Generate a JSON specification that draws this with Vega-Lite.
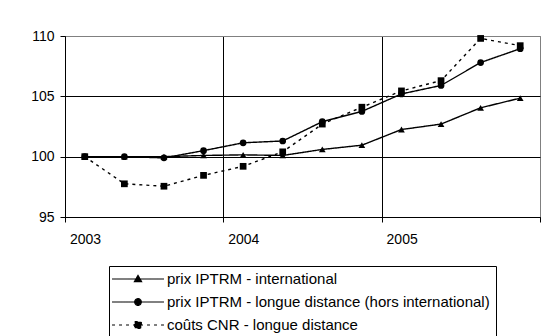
{
  "$schema": "https://vega.github.io/schema/vega-lite/v6.json",
  "width": 475,
  "height": 181,
  "autosize": {"type": "none"},
  "padding": {"left": 65, "top": 36, "right": 11, "bottom": 119},
  "background": "white",
  "config": {
    "font": "Liberation Sans",
    "view": {"stroke": "#808080", "strokeWidth": 1},
    "axis": {
      "domainColor": "black",
      "domainWidth": 1,
      "tickColor": "black",
      "tickWidth": 1,
      "tickSize": 5,
      "labelColor": "black",
      "labelFont": "Liberation Sans",
      "labelFontSize": 14,
      "gridWidth": 1,
      "title": null
    }
  },
  "data": {
    "values": [
      {"periode": 2003.125, "serie": "prix IPTRM - international", "valeur": 100},
      {"periode": 2003.375, "serie": "prix IPTRM - international", "valeur": 100},
      {"periode": 2003.625, "serie": "prix IPTRM - international", "valeur": 100},
      {"periode": 2003.875, "serie": "prix IPTRM - international", "valeur": 100.1},
      {"periode": 2004.125, "serie": "prix IPTRM - international", "valeur": 100.15},
      {"periode": 2004.375, "serie": "prix IPTRM - international", "valeur": 100.1},
      {"periode": 2004.625, "serie": "prix IPTRM - international", "valeur": 100.6},
      {"periode": 2004.875, "serie": "prix IPTRM - international", "valeur": 100.95},
      {"periode": 2005.125, "serie": "prix IPTRM - international", "valeur": 102.25},
      {"periode": 2005.375, "serie": "prix IPTRM - international", "valeur": 102.7},
      {"periode": 2005.625, "serie": "prix IPTRM - international", "valeur": 104.05},
      {"periode": 2005.875, "serie": "prix IPTRM - international", "valeur": 104.85},
      {"periode": 2003.125, "serie": "prix IPTRM - longue distance (hors international)", "valeur": 100},
      {"periode": 2003.375, "serie": "prix IPTRM - longue distance (hors international)", "valeur": 100},
      {"periode": 2003.625, "serie": "prix IPTRM - longue distance (hors international)", "valeur": 99.9},
      {"periode": 2003.875, "serie": "prix IPTRM - longue distance (hors international)", "valeur": 100.5},
      {"periode": 2004.125, "serie": "prix IPTRM - longue distance (hors international)", "valeur": 101.15},
      {"periode": 2004.375, "serie": "prix IPTRM - longue distance (hors international)", "valeur": 101.3},
      {"periode": 2004.625, "serie": "prix IPTRM - longue distance (hors international)", "valeur": 102.9},
      {"periode": 2004.875, "serie": "prix IPTRM - longue distance (hors international)", "valeur": 103.75},
      {"periode": 2005.125, "serie": "prix IPTRM - longue distance (hors international)", "valeur": 105.2},
      {"periode": 2005.375, "serie": "prix IPTRM - longue distance (hors international)", "valeur": 105.9},
      {"periode": 2005.625, "serie": "prix IPTRM - longue distance (hors international)", "valeur": 107.8},
      {"periode": 2005.875, "serie": "prix IPTRM - longue distance (hors international)", "valeur": 108.95},
      {"periode": 2003.125, "serie": "coûts CNR - longue distance", "valeur": 100},
      {"periode": 2003.375, "serie": "coûts CNR - longue distance", "valeur": 97.75},
      {"periode": 2003.625, "serie": "coûts CNR - longue distance", "valeur": 97.55},
      {"periode": 2003.875, "serie": "coûts CNR - longue distance", "valeur": 98.45},
      {"periode": 2004.125, "serie": "coûts CNR - longue distance", "valeur": 99.2},
      {"periode": 2004.375, "serie": "coûts CNR - longue distance", "valeur": 100.4},
      {"periode": 2004.625, "serie": "coûts CNR - longue distance", "valeur": 102.7},
      {"periode": 2004.875, "serie": "coûts CNR - longue distance", "valeur": 104.1},
      {"periode": 2005.125, "serie": "coûts CNR - longue distance", "valeur": 105.45},
      {"periode": 2005.375, "serie": "coûts CNR - longue distance", "valeur": 106.3},
      {"periode": 2005.625, "serie": "coûts CNR - longue distance", "valeur": 109.8},
      {"periode": 2005.875, "serie": "coûts CNR - longue distance", "valeur": 109.2}
    ]
  },
  "encoding": {
    "x": {
      "field": "periode",
      "type": "quantitative",
      "scale": {"domain": [2003, 2006], "nice": false, "zero": false},
      "axis": {
        "values": [2003, 2004, 2005, 2006],
        "format": "d",
        "labelExpr": "datum.value >= 2006 ? '' : datum.label",
        "labelOffset": 20,
        "labelFlush": false,
        "labelOverlap": false,
        "labelPadding": 10,
        "grid": true,
        "gridColor": {"condition": {"test": "datum.value >= 2006", "value": "#808080"}, "value": "black"}
      }
    },
    "y": {
      "field": "valeur",
      "type": "quantitative",
      "scale": {"domain": [95, 110], "nice": false, "zero": false},
      "axis": {
        "values": [95, 100, 105, 110],
        "labelPadding": 6,
        "grid": true,
        "gridColor": {"condition": {"test": "datum.value >= 110", "value": "#808080"}, "value": "black"}
      }
    }
  },
  "layer": [
    {
      "mark": {"type": "line", "color": "black", "strokeWidth": 1.4},
      "encoding": {
        "strokeDash": {
          "field": "serie",
          "type": "nominal",
          "scale": {
            "domain": ["prix IPTRM - international", "prix IPTRM - longue distance (hors international)", "coûts CNR - longue distance"],
            "range": [[1, 0], [1, 0], [3, 4]]
          },
          "legend": {
            "orient": "none",
            "legendX": 44,
            "legendY": 230,
            "title": null,
            "strokeColor": "black",
            "fillColor": "white",
            "padding": 5.5,
            "labelFont": "Liberation Sans",
            "labelFontSize": 15,
            "labelColor": "black",
            "labelLimit": 600,
            "labelOffset": 21.5,
            "rowPadding": 7,
            "symbolSize": 144,
            "symbolOffset": 16,
            "symbolStrokeWidth": 1.2,
            "symbolStrokeColor": "black",
            "symbolFillColor": "black",
            "symbolType": "M-4.33,0H4.33",
            "encode": {
              "symbols": {
                "update": {
                  "shape": {"signal": "datum.value === 'prix IPTRM - international' ? 'M-4.33,0H4.33M0,-0.6L0.6,0.45L-0.6,0.45Z' : (datum.value === 'coûts CNR - longue distance' ? 'M-4.33,0H4.33M-0.55,-0.55H0.55V0.55H-0.55Z' : 'M-4.33,0H4.33M-0.55,0A0.55,0.55,0,1,0,0.55,0A0.55,0.55,0,1,0,-0.55,0Z')"},
                  "fill": {"value": "black"},
                  "stroke": {"value": "black"},
                  "opacity": {"value": 1}
                }
              }
            }
          }
        }
      }
    },
    {
      "transform": [{"filter": "datum.serie === 'prix IPTRM - international'"}],
      "mark": {"type": "point", "filled": true, "color": "black", "size": 45, "opacity": 1, "shape": "triangle-up"}
    },
    {
      "transform": [{"filter": "datum.serie === 'prix IPTRM - longue distance (hors international)'"}],
      "mark": {"type": "point", "filled": true, "color": "black", "size": 45, "opacity": 1, "shape": "circle"}
    },
    {
      "transform": [{"filter": "datum.serie === 'coûts CNR - longue distance'"}],
      "mark": {"type": "point", "filled": true, "color": "black", "size": 45, "opacity": 1, "shape": "square"}
    }
  ]
}
